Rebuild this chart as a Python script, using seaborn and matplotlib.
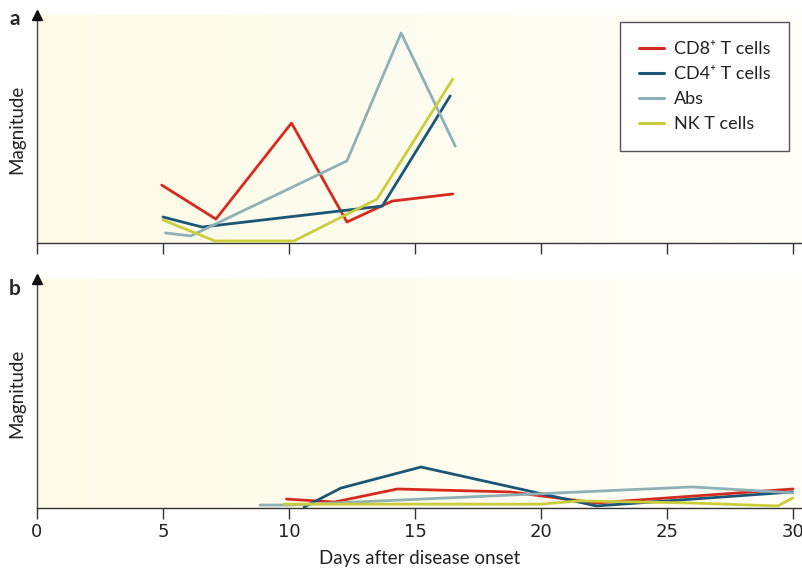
import numpy as np
import pandas as pd
import matplotlib
matplotlib.use("Agg")
import matplotlib.pyplot as plt
from matplotlib.lines import Line2D
from matplotlib.colors import LinearSegmentedColormap
import seaborn as sns

# ---------------- data ----------------
series_names = ["CD8⁺ T cells", "CD4⁺ T cells", "Abs", "NK T cells"]
series_colors = ["#D52B1E", "#1A5675", "#8EB0B7", "#CBCD3C"]

# panel a
a_cd8_days = [4.95, 7.1, 10.1, 12.3, 14.1, 16.5]
a_cd8_mag = [25.4, 10.5, 52.6, 9.2, 18.4, 21.5]
a_cd4_days = [5.0, 6.55, 13.7, 16.4]
a_cd4_mag = [11.4, 7.0, 16.2, 64.5]
a_abs_days = [5.1, 6.1, 12.3, 14.45, 16.6]
a_abs_mag = [4.4, 3.1, 36.0, 92.1, 42.5]
a_nk_days = [5.0, 7.06, 10.2, 13.5, 16.5]
a_nk_mag = [10.1, 0.9, 0.9, 19.3, 71.9]

# panel b
b_cd8_days = [9.9, 11.8, 14.3, 18.8, 22.2, 30.0]
b_cd8_mag = [3.9, 2.6, 8.3, 7.0, 2.2, 8.3]
b_cd4_days = [10.6, 12.06, 15.24, 22.2, 29.98]
b_cd4_mag = [0.4, 8.7, 17.9, 0.9, 7.0]
b_abs_days = [8.85, 10.0, 26.0, 30.0]
b_abs_mag = [1.3, 1.3, 9.2, 6.6]
b_nk_days = [9.8, 20.0, 21.5, 25.9, 29.4, 30.0]
b_nk_mag = [1.7, 1.7, 3.1, 2.2, 0.9, 4.4]

x_ticks = [0, 5, 10, 15, 20, 25, 30]


def long_frame(parts):
    rows = []
    for name, days, mag in parts:
        for d, m in zip(days, mag):
            rows.append({"series": name, "day": d, "mag": m})
    return pd.DataFrame(rows)


df_a = long_frame([
    (series_names[0], a_cd8_days, a_cd8_mag),
    (series_names[1], a_cd4_days, a_cd4_mag),
    (series_names[2], a_abs_days, a_abs_mag),
    (series_names[3], a_nk_days, a_nk_mag),
])
df_b = long_frame([
    (series_names[0], b_cd8_days, b_cd8_mag),
    (series_names[1], b_cd4_days, b_cd4_mag),
    (series_names[2], b_abs_days, b_abs_mag),
    (series_names[3], b_nk_days, b_nk_mag),
])

# ---------------- style ----------------
sns.set_theme(style="white")
plt.rcParams["font.family"] = ["Lato", "DejaVu Sans"]

palette = dict(zip(series_names, series_colors))

fig = plt.figure(figsize=(8.03, 5.71), dpi=100)
W, H = 803, 571
ax_a = fig.add_axes([37 / W, 1 - 243 / H, (W - 37) / W, 228 / H])
ax_b = fig.add_axes([37 / W, 1 - 508 / H, (W - 37) / W, 229 / H])

grad = np.linspace(0, 1, 256).reshape(1, -1)
bg_cmap = LinearSegmentedColormap.from_list("bg", ["#FDFAE6", "#FEFCEE", "#FEFEF7"])

for ax, df in [(ax_a, df_a), (ax_b, df_b)]:
    ax.imshow(grad, cmap=bg_cmap, aspect="auto", extent=[0, 1, 0, 1],
              transform=ax.transAxes, zorder=0)
    sns.lineplot(data=df, x="day", y="mag", hue="series", palette=palette,
                 hue_order=series_names, estimator=None, sort=False,
                 linewidth=2.0, ax=ax, legend=False, zorder=3)
    ax.set_xlim(0, 30.4)
    ax.set_ylim(0, 100)
    ax.set_xticks(x_ticks)
    ax.set_yticks([])
    ax.set_xlabel("")
    ax.set_ylabel("Magnitude", fontsize=13.5, color="#222222")
    for s in ["top", "right"]:
        ax.spines[s].set_visible(False)
    ax.spines["left"].set_color("#444444")
    ax.spines["left"].set_linewidth(1.0)
    ax.spines["bottom"].set_color("#333333")
    ax.spines["bottom"].set_linewidth(1.0)
    ax.tick_params(axis="x", direction="out", length=8, width=1.0,
                   color="#333333", bottom=True)
    ax.plot([0], [1.0], marker="^", markersize=7, color="#111111",
            transform=ax.transAxes, clip_on=False, zorder=5)
    ax.set_facecolor("none")
    ax.yaxis.set_label_coords(-0.0155, 0.5)

ax_a.set_xticklabels([])
ax_b.set_xticklabels([str(t) for t in x_ticks],
                     fontdict={"family": ["Liberation Sans Narrow", "DejaVu Sans"], "size": 13},
                     color="#222222")
ax_b.tick_params(axis="x", pad=3)
ax_b.set_xlabel("Days after disease onset", fontsize=13.5, color="#222222", labelpad=6)

fig.text(15 / W, 1 - 19 / H, "a", fontsize=15, fontweight="bold", va="center", ha="center")
fig.text(15 / W, 1 - 289 / H, "b", fontsize=15, fontweight="bold", va="center", ha="center")

handles = [Line2D([0], [0], color=c, lw=2.2) for c in series_colors]
leg = ax_a.legend(handles, series_names, loc="upper right", bbox_to_anchor=(0.982, 0.969),
                  frameon=True, fancybox=False, fontsize=13, handlelength=1.35,
                  handletextpad=0.55, labelspacing=0.5, borderpad=1.05,
                  borderaxespad=0)
leg.get_frame().set_edgecolor("#555555")
leg.get_frame().set_linewidth(1.0)
leg.get_frame().set_facecolor("white")
leg.get_frame().set_alpha(1.0)
for t in leg.get_texts():
    t.set_color("#222222")

fig.savefig("out.png", dpi=100)
